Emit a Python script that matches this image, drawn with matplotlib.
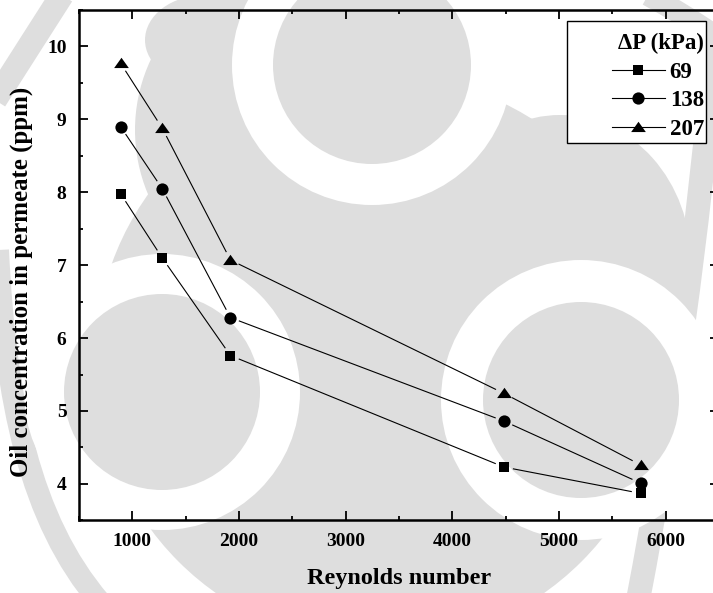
import matplotlib
matplotlib.use("Agg")
import numpy as np
import matplotlib.pyplot as plt
from matplotlib.patches import Circle, Ellipse, Rectangle, PathPatch
from matplotlib.path import Path
from matplotlib.lines import Line2D
from matplotlib.ticker import MultipleLocator

# Reynolds number and oil concentration in permeate (ppm) for three pressures
reynolds = [890, 1280, 1920, 4485, 5765]
oil_69 = [7.98, 7.10, 5.76, 4.23, 3.87]
oil_138 = [8.90, 8.05, 6.28, 4.86, 4.01]
oil_207 = [9.77, 8.88, 7.07, 5.24, 4.26]
pressure_labels = ["69", "138", "207"]

W, H = 713, 593
fig = plt.figure(figsize=(W / 100, H / 100), dpi=100)
fig.patch.set_facecolor("white")

# ---- light grey logo in the background (pixel coordinates, y downwards) ----
bg = fig.add_axes([0, 0, 1, 1], zorder=0)
bg.set_xlim(0, W)
bg.set_ylim(H, 0)
bg.axis("off")
grey = "#dedede"

bg.add_patch(Circle((380, 360), 285, color=grey, lw=0))
bg.add_patch(Circle((300, 130), 165, color=grey, lw=0))
bg.add_patch(Ellipse((205, 40), 120, 90, color=grey, lw=0))
bg.add_patch(Ellipse((560, 262), 262, 294, color=grey, lw=0))

def band(points, width, kind=Path.CURVE4):
    codes = [Path.MOVETO] + [kind] * (len(points) - 1)
    bg.add_patch(PathPatch(Path(points, codes), fill=False,
                           edgecolor=grey, lw=width * 0.72, capstyle="butt"))

band([(62, -5), (30, 45), (-5, 100)], 24, Path.CURVE3)
band([(-2, 250), (5, 400), (30, 520), (100, 602)], 22)
band([(715, 40), (690, 330), (638, 600)], 24, Path.CURVE3)
band([(648, -5), (685, 15), (718, 38)], 22, Path.CURVE3)

for (cx, cy), r_in, r_out in [((372, 65), 99, 140), ((162, 392), 98, 138),
                              ((581, 400), 98, 140)]:
    bg.add_patch(Circle((cx, cy), r_out, color="white", lw=0))
    bg.add_patch(Circle((cx, cy), r_in, color=grey, lw=0))

# legend frame
bg.add_patch(Rectangle((567, 21), 139, 122, facecolor="white",
                       edgecolor="black", lw=1.0))

# ---- main plot ----
plt.rcParams["font.family"] = ["Liberation Serif", "DejaVu Serif"]
plt.rcParams["font.weight"] = "bold"

left, right, top, bottom = 79, 719, 10, 520.3
ax = fig.add_axes([left / W, 1 - bottom / H, (right - left) / W, (bottom - top) / H],
                  zorder=1)
ax.set_facecolor("none")
ax.set_xlim(500, 6500)
ax.set_ylim(3.5, 10.5)

tri = [(0, 0.78), (-1, -0.62), (1, -0.62)]
series = [(oil_69, "s", 7.8), (oil_138, "o", 8.8), (oil_207, tri, 10.6)]

# connecting segments stop short of each marker
gap = 9.5
to_px = ax.transData
from_px = ax.transData.inverted()
for values, marker, ms in series:
    pts = to_px.transform(np.column_stack([reynolds, values]))
    for p0, p1 in zip(pts[:-1], pts[1:]):
        d = p1 - p0
        u = d / np.hypot(*d)
        seg = from_px.transform(np.vstack([p0 + u * gap, p1 - u * gap]))
        ax.plot(seg[:, 0], seg[:, 1], color="black", lw=0.8)
    ax.plot(reynolds, values, ls="none", marker=marker, ms=ms, mew=0, color="black")

ax.xaxis.set_major_locator(MultipleLocator(1000))
ax.xaxis.set_minor_locator(MultipleLocator(500))
ax.yaxis.set_major_locator(MultipleLocator(1))
ax.yaxis.set_minor_locator(MultipleLocator(0.5))
ax.tick_params(which="both", direction="in", top=True, right=True,
               width=1.3, labelsize=14, pad=9)
ax.tick_params(which="major", length=6.5)
ax.tick_params(which="minor", length=3)
for lab in ax.get_xticklabels() + ax.get_yticklabels():
    lab.set_fontweight("bold")
for s in ax.spines.values():
    s.set_linewidth(1.8)

ax.set_xlabel("Reynolds number", fontsize=17.5, fontweight="bold")
ax.set_ylabel("Oil concentration in permeate (ppm)", fontsize=17.9,
              fontweight="bold")
ax.xaxis.set_label_coords(0.5, -0.093)
ax.yaxis.set_label_coords(-0.072, 0.468)

handles = [Line2D([], [], color="black", lw=0.8, marker=m, ms=ms, mew=0)
           for _, m, ms in series]
leg = ax.legend(handles, pressure_labels, title="ΔP (kPa)", loc="upper right",
                bbox_to_anchor=(704 / W, 1 - 33 / H), bbox_transform=fig.transFigure,
                borderaxespad=0, frameon=False,
                prop={"size": 16.5, "weight": "bold"},
                title_fontproperties={"size": 16.5, "weight": "bold"},
                handlelength=2.3, handletextpad=0.22, labelspacing=0.33,
                borderpad=0.0, alignment="right")

fig.savefig("out.png", dpi=100)
